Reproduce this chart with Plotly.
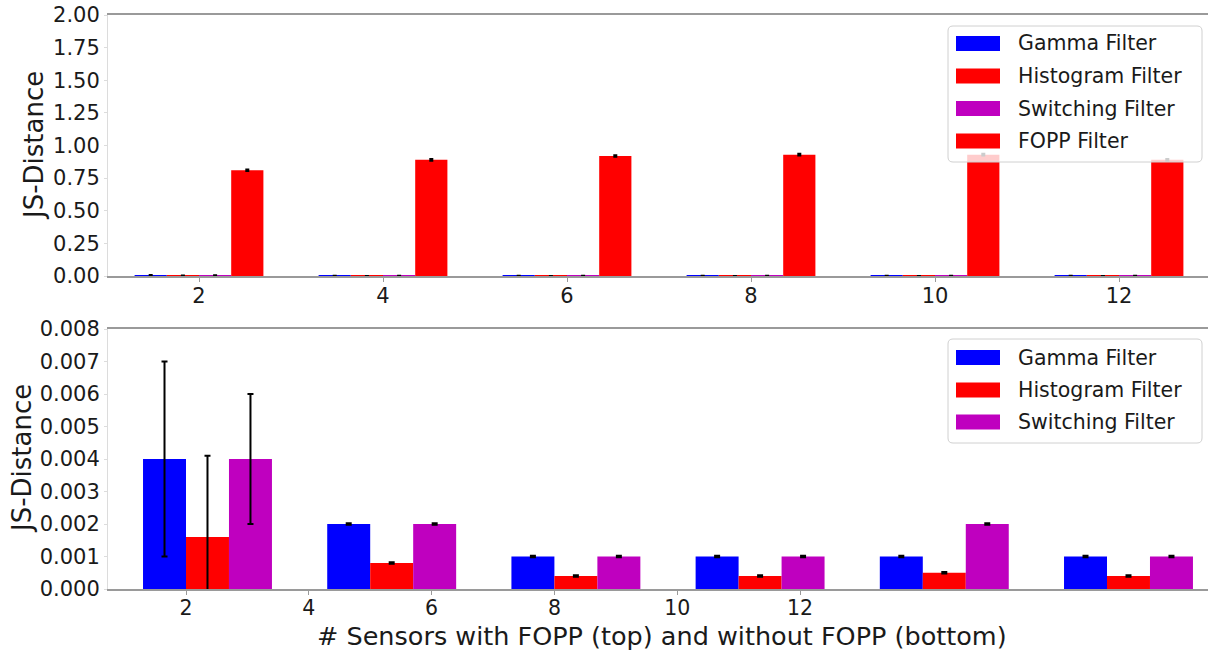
import numpy as np
import plotly.graph_objects as go

# ---- data -------------------------------------------------------------
sensors = [2, 4, 6, 8, 10, 12]
tick_labels = ["2", "4", "6", "8", "10", "12"]

gamma = [0.004, 0.002, 0.001, 0.001, 0.001, 0.001]
gamma_err = [0.003, 0.00002, 0.00002, 0.00002, 0.00002, 0.00002]

histogram = [0.0016, 0.0008, 0.0004, 0.0004, 0.0005, 0.0004]
histogram_err = [0.0025, 0.00002, 0.00002, 0.00002, 0.00002, 0.00002]

switching = [0.004, 0.002, 0.001, 0.001, 0.002, 0.001]
switching_err = [0.002, 0.00002, 0.00002, 0.00002, 0.00002, 0.00002]

fopp = [0.81, 0.89, 0.92, 0.93, 0.93, 0.89]
fopp_err = [0.006, 0.006, 0.006, 0.006, 0.006, 0.006]

series_names = ["Gamma Filter", "Histogram Filter", "Switching Filter", "FOPP Filter"]
colors = ["#0000FF", "#FF0000", "#BF00BF", "#FF0000"]

# ---- figure geometry (pixels) ----------------------------------------
W, H = 1208, 650
FONT = "DejaVu Sans"
TXT = "#1a1a1a"


def px_x(x):
    return x / W


def px_y(y):
    return 1 - y / H


fig = go.Figure()

# top panel: four bars per group, width 0.35 around each sensor count
top_w = 0.35
top_offsets = [-1.5 * top_w, -0.5 * top_w, 0.5 * top_w, 1.5 * top_w]
top_series = [(gamma, gamma_err), (histogram, histogram_err),
              (switching, switching_err), (fopp, fopp_err)]
xs = np.array(sensors, dtype=float)
for (vals, errs), off, name, col in zip(top_series, top_offsets, series_names, colors):
    fig.add_trace(go.Bar(
        x=xs + off, y=vals, width=top_w, name=name,
        marker=dict(color=col, line=dict(width=0)),
        error_y=dict(type="data", array=errs, color="black", thickness=2, width=2),
        xaxis="x", yaxis="y", showlegend=False,
    ))

# bottom panel: three bars per group on its own axis scale
bot_w = 0.70
group_base = 3 * np.arange(len(sensors)) + 2.35
bot_offsets = [-bot_w, 0.0, bot_w]
bot_series = [(gamma, gamma_err), (histogram, histogram_err), (switching, switching_err)]
for (vals, errs), off, name, col in zip(bot_series, bot_offsets, series_names[:3], colors[:3]):
    fig.add_trace(go.Bar(
        x=group_base + off, y=vals, width=bot_w, name=name,
        marker=dict(color=col, line=dict(width=0)),
        error_y=dict(type="data", array=errs, color="black", thickness=2, width=3),
        xaxis="x2", yaxis="y2", showlegend=False,
    ))

tick_font = dict(family=FONT, size=21, color=TXT)
spine = "#9a9a9a"
faint = "#dcdcdc"


def x_axis_style(font_size):
    # labels sit close to the axis; the small outward tick marks come from minor ticks
    return dict(
        tickmode="array", tickvals=sensors, ticktext=tick_labels,
        showgrid=False, zeroline=False, showline=True, mirror=True,
        linecolor=spine, linewidth=1.5, ticks="",
        tickfont=dict(family=FONT, size=font_size, color=TXT), automargin=False,
        minor=dict(tickmode="array", tickvals=sensors, ticks="outside",
                   ticklen=4, tickcolor=spine, tickwidth=1, showgrid=False),
    )


y_common = dict(
    showgrid=False, zeroline=False, showline=True, linecolor=faint,
    linewidth=1, ticks="outside", ticklen=3, tickcolor=faint,
    tickfont=tick_font, automargin=False,
)

fig.update_layout(
    width=W, height=H,
    margin=dict(l=0, r=0, t=0, b=0, pad=0, autoexpand=False),
    paper_bgcolor="white", plot_bgcolor="white",
    barmode="overlay",
    showlegend=False,
    font=dict(family=FONT, color=TXT),
    xaxis=dict(domain=[px_x(108), 1.0], range=[2 - 91 / 92, 2 + 1009 / 92],
               anchor="y", **x_axis_style(21)),
    yaxis=dict(domain=[px_y(276), px_y(15)], range=[0, 2.0],
               tickmode="array", tickvals=list(np.arange(0, 2.01, 0.25)),
               tickformat=".2f", anchor="x", **y_common),
    xaxis2=dict(domain=[px_x(108), 1.0], range=[2 - 78 / 61.4, 2 + 1022 / 61.4],
                anchor="y2", **x_axis_style(20.5)),
    yaxis2=dict(domain=[px_y(589), px_y(329)], range=[0, 0.008],
                tickmode="array", tickvals=list(np.arange(0, 0.00801, 0.001)),
                tickformat=".3f", anchor="x2", **y_common),
)

# ---- axis titles -----------------------------------------------------
title_font = dict(family=FONT, size=26, color=TXT)
annotations = [
    dict(text="JS-Distance", x=px_x(34), y=px_y(146), textangle=-90,
         xref="paper", yref="paper", showarrow=False, font=title_font,
         xanchor="center", yanchor="middle"),
    dict(text="JS-Distance", x=px_x(22), y=px_y(459), textangle=-90,
         xref="paper", yref="paper", showarrow=False, font=title_font,
         xanchor="center", yanchor="middle"),
    dict(text="# Sensors with FOPP (top) and without FOPP (bottom)",
         x=px_x(662), y=px_y(636), xref="paper", yref="paper",
         showarrow=False, font=dict(family=FONT, size=25.5, color=TXT),
         xanchor="center", yanchor="middle"),
]

# ---- legends drawn as framed boxes with swatches ---------------------
shapes = []
legend_font = dict(family=FONT, size=20.5, color=TXT)


def rounded_box(x0, y0, x1, y1, r=5):
    X0, X1 = px_x(x0), px_x(x1)
    Y0, Y1 = px_y(y0), px_y(y1)
    rx, ry = r / W, r / H
    return (f"M{X0 + rx},{Y0} L{X1 - rx},{Y0} Q{X1},{Y0} {X1},{Y0 - ry} "
            f"L{X1},{Y1 + ry} Q{X1},{Y1} {X1 - rx},{Y1} "
            f"L{X0 + rx},{Y1} Q{X0},{Y1} {X0},{Y1 + ry} "
            f"L{X0},{Y0 - ry} Q{X0},{Y0} {X0 + rx},{Y0} Z")


def add_legend(box, rows, names, cols):
    x0, y0, x1, y1 = box
    shapes.append(dict(type="path", path=rounded_box(x0, y0, x1, y1),
                       xref="paper", yref="paper", layer="above",
                       fillcolor="rgba(255,255,255,0.8)",
                       line=dict(color="#d0d0d0", width=1)))
    for yc, name, col in zip(rows, names, cols):
        shapes.append(dict(type="rect", xref="paper", yref="paper", layer="above",
                           x0=px_x(956), x1=px_x(1000),
                           y0=px_y(yc + 7.5), y1=px_y(yc - 7.5),
                           fillcolor=col, line=dict(width=0)))
        annotations.append(dict(text=name, x=px_x(1016), y=px_y(yc),
                                xref="paper", yref="paper", showarrow=False,
                                xanchor="left", yanchor="middle", font=legend_font))


add_legend((948, 26, 1202, 162), [43.5, 76, 108.5, 141], series_names, colors)
add_legend((948, 339, 1202, 443), [357.5, 390, 422], series_names[:3], colors[:3])

fig.update_layout(shapes=shapes, annotations=annotations)

fig.write_html("out.html")
